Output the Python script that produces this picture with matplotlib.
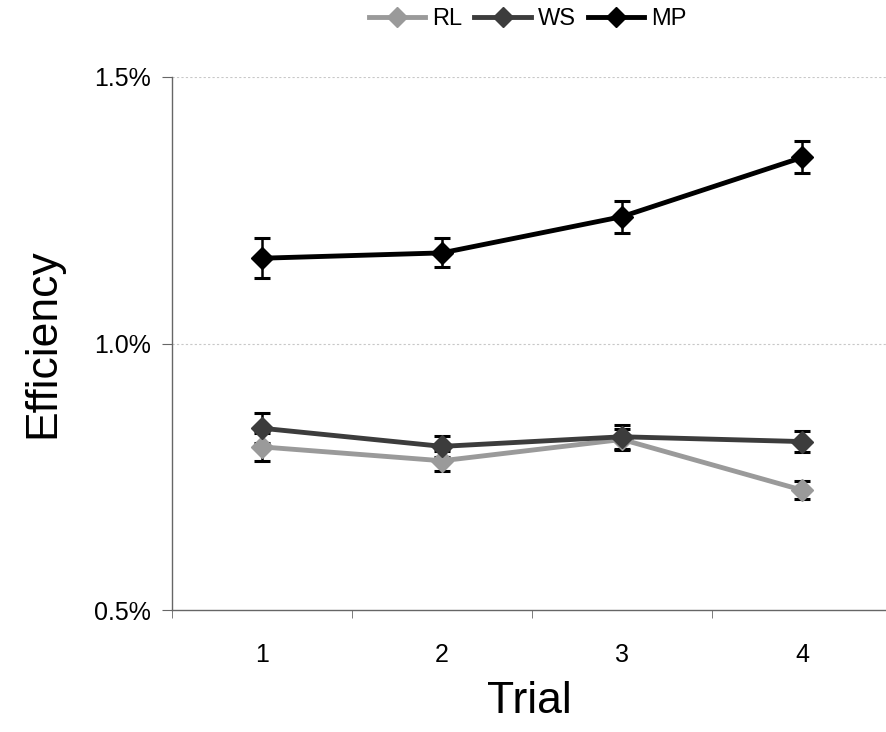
import matplotlib.pyplot as plt
from matplotlib.ticker import FuncFormatter, FixedLocator
from matplotlib.lines import Line2D

plt.rcParams['font.family'] = ['Liberation Sans', 'DejaVu Sans']

trials = [1, 2, 3, 4]
rl = [0.806, 0.780, 0.820, 0.725]
rl_err = [0.026, 0.019, 0.020, 0.017]
ws = [0.841, 0.807, 0.825, 0.816]
ws_err = [0.028, 0.020, 0.022, 0.019]
mp = [1.160, 1.170, 1.238, 1.349]
mp_err = [0.037, 0.027, 0.030, 0.030]

fig = plt.figure(figsize=(8.87, 7.32), dpi=100)
ax = fig.add_axes([172 / 887, 1 - 610 / 732, 715 / 887, 533 / 732])

series = [('RL', rl, rl_err, '#9a9a9a'),
          ('WS', ws, ws_err, '#3c3c3c'),
          ('MP', mp, mp_err, '#000000')]
for name, vals, err, col in series:
    ax.errorbar(trials, vals, yerr=err, color=col, lw=3.5, marker='D',
                markersize=11, ecolor='black', elinewidth=1.8, capsize=6,
                capthick=2.2, label=name, zorder=3)

ax.set_ylim(0.5, 1.5)
ax.set_xlim(0.5, 0.5 + 715 / 180)
ax.set_yticks([0.5, 1.0, 1.5])
ax.yaxis.set_major_formatter(FuncFormatter(lambda v, p: f'{v:.1f}%'))
ax.set_xticks(trials)
ax.xaxis.set_minor_locator(FixedLocator([0.5, 1.5, 2.5, 3.5, 4.5]))
ax.tick_params(axis='x', which='major', length=0, pad=24, labelsize=18)
ax.tick_params(axis='x', which='minor', length=6, direction='out', color='#666666')
ax.tick_params(axis='y', length=7, direction='out', color='#666666', labelsize=18, pad=8)

for y in [1.0, 1.5]:
    ax.axhline(y, color='#c8c8c8', lw=0.8, ls=(0, (2, 2)), zorder=1)

for s in ['top', 'right']:
    ax.spines[s].set_visible(False)
for s in ['left', 'bottom']:
    ax.spines[s].set_color('#666666')
    ax.spines[s].set_linewidth(1.0)

ax.set_ylabel('Efficiency', fontsize=32, labelpad=22)
ax.set_xlabel('Trial', fontsize=32, labelpad=10)

h2 = [Line2D([], [], color=c, lw=3.5, marker='D', markersize=10) for _, _, _, c in series]
fig.legend(h2, [s[0] for s in series], loc='upper center', bbox_to_anchor=(0.595, 1.018),
           ncol=3, frameon=False, fontsize=17, handlelength=2.4, handletextpad=0.3,
           columnspacing=0.5)

fig.savefig('out.png', dpi=100)
